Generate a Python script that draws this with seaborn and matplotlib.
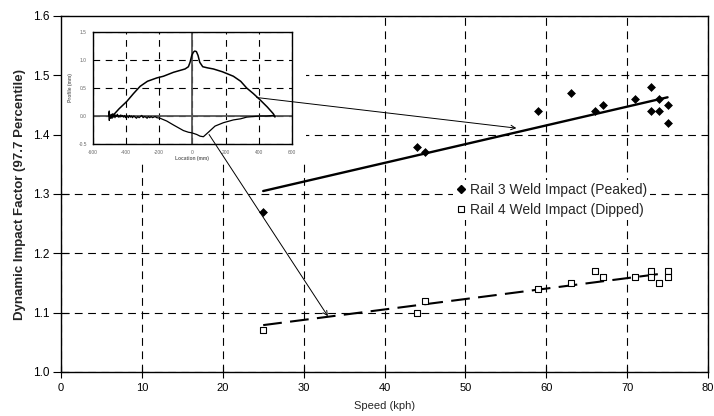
import numpy as np
import pandas as pd
import matplotlib
matplotlib.use("Agg")
import matplotlib.pyplot as plt
import seaborn as sns
from matplotlib.patches import Rectangle
from matplotlib.lines import Line2D

# ---- main chart data ----
speed_peaked = [25, 44, 45, 59, 63, 66, 67, 71, 73, 73, 74, 74, 75, 75]
dif_peaked = [1.27, 1.38, 1.37, 1.44, 1.47, 1.44, 1.45, 1.46, 1.48, 1.44, 1.46, 1.44, 1.45, 1.42]
speed_dipped = [25, 44, 45, 59, 63, 66, 67, 71, 73, 73, 74, 75, 75]
dif_dipped = [1.07, 1.10, 1.12, 1.14, 1.15, 1.17, 1.16, 1.16, 1.17, 1.16, 1.15, 1.17, 1.16]
trend_speed = [25, 75]
trend_peaked = [1.305, 1.463]
trend_dipped = [1.079, 1.167]
x_ticks = [0, 10, 20, 30, 40, 50, 60, 70, 80]
y_ticks = [1.0, 1.1, 1.2, 1.3, 1.4, 1.5, 1.6]
label_peaked = "Rail 3 Weld Impact (Peaked)"
label_dipped = "Rail 4 Weld Impact (Dipped)"

# ---- inset profile data ----
peak_loc = [-480, -440, -394, -354, -314, -270, -214, -174, -114, -44, -24, -14, -4, 6, 14, 24, 34, 44, 62, 90, 126, 180, 246, 290, 326, 366, 406, 450, 486, 496]
peak_prof = [0.00, 0.13, 0.26, 0.40, 0.53, 0.62, 0.68, 0.71, 0.78, 0.84, 0.88, 0.96, 1.08, 1.14, 1.16, 1.15, 1.08, 0.96, 0.88, 0.86, 0.84, 0.79, 0.71, 0.62, 0.50, 0.40, 0.29, 0.16, 0.04, -0.01]
dip_loc = [-500, -499.5, -499, -498.5, -497, -494, -490, -486, -482, -478, -474, -470, -465, -460, -455, -450, -445, -440, -435, -430, -425, -420,
           -414, -408, -402, -396, -390, -384, -378, -372, -366, -360, -352, -344, -336, -328, -320, -312, -304, -296, -288, -280,
           -272, -264, -256, -248, -240, -232, -224, -214, -194, -154, -114, -84, -54, -24, -4, 26, 46, 66, 96, 136, 186, 246, 290, 326, 366, 406, 446, 486, 496]
dip_prof = [0.00, 0.09, -0.08, 0.06, -0.04, 0.02, -0.04, 0.03, -0.04, 0.04, -0.02, 0.03, -0.03, 0.02, -0.01, 0.03, -0.02, 0.01, -0.02, 0.02, -0.01, 0.01,
            -0.02, 0.01, -0.03, 0.01, -0.01, -0.03, 0.01, -0.02, 0.00, -0.03, 0.00, -0.02, -0.04, -0.01, -0.03, -0.01, 0.01, -0.03, -0.01, -0.02,
            -0.04, -0.01, -0.03, -0.01, -0.03, -0.02, -0.01, -0.03, -0.04, -0.09, -0.16, -0.21, -0.26, -0.29, -0.30, -0.33, -0.36, -0.37, -0.29, -0.18, -0.12, -0.07, -0.05, -0.02, -0.01, 0.00, 0.00, 0.01, -0.02]
inset_xticks = [-600, -400, -200, 0, 200, 400, 600]
inset_yticks = [-0.5, 0.0, 0.5, 1.0, 1.5]

sns.set_theme(style="white")
plt.rcParams["font.family"] = ["Liberation Sans", "DejaVu Sans"]

W, H = 714, 416
fig = plt.figure(figsize=(W / 100, H / 100), dpi=100)
fig.patch.set_facecolor("white")

def fx(px):
    return px / W

def fy(py):
    return 1 - py / H

ax = fig.add_axes([fx(61), fy(372), fx(708) - fx(61), fy(16) - fy(372)])
ax.set_facecolor("white")

# scatter
dfp = pd.DataFrame({"speed": speed_peaked, "dif": dif_peaked})
dfd = pd.DataFrame({"speed": speed_dipped, "dif": dif_dipped})
sns.scatterplot(data=dfp, x="speed", y="dif", marker="D", s=16, color="black",
                edgecolor="black", linewidth=0.5, ax=ax, zorder=3)
sns.scatterplot(data=dfd, x="speed", y="dif", marker="s", s=18, facecolor="white",
                edgecolor="black", linewidth=0.8, ax=ax, zorder=3)

# trend lines
dft = pd.DataFrame({"speed": trend_speed, "peaked": trend_peaked, "dipped": trend_dipped})
sns.lineplot(data=dft, x="speed", y="peaked", color="black", lw=1.7, ax=ax, zorder=2.6)
sns.lineplot(data=dft, x="speed", y="dipped", color="black", lw=1.5, ax=ax, zorder=2.6,
             dashes=False, linestyle=(0, (9, 4)))

ax.set_xlim(0, 80)
ax.set_ylim(1.0, 1.6)
ax.set_xticks(x_ticks)
ax.set_yticks(y_ticks)
ax.set_yticklabels([f"{v:.1f}" for v in y_ticks])
ax.grid(True, color="black", lw=0.8, linestyle=(0, (7, 5)))
ax.set_axisbelow(True)
for s in ax.spines.values():
    s.set_color("black")
    s.set_linewidth(1.0)
ax.tick_params(axis="x", direction="inout", length=8, width=0.8, colors="black", labelsize=8, pad=4, bottom=True)
ax.tick_params(axis="y", direction="inout", length=11, width=0.8, colors="black", labelsize=8.5, pad=3, left=True)
ax.set_xlabel("Speed (kph)", fontsize=8, labelpad=6)
ax.set_ylabel("Dynamic Impact Factor (97.7 Percentile)", fontsize=9.5, fontweight="bold", labelpad=5)

# white box behind inset
ax.add_patch(Rectangle((0, 1.35), 30.3, 0.25, transform=ax.transData, facecolor="white",
                       edgecolor="none", zorder=1))

handles = [Line2D([], [], marker="D", color="black", ls="none", markersize=4),
           Line2D([], [], marker="s", markerfacecolor="white", markeredgecolor="black", ls="none", markersize=4.5, markeredgewidth=0.8)]
leg = ax.legend(handles, [label_peaked, label_dipped], loc="center left",
                bbox_to_anchor=((446 - 61) / 647, (372 - 200) / 356), frameon=True,
                facecolor="white", edgecolor="none", framealpha=1, fontsize=10,
                handlelength=0.8, handletextpad=0.25, labelspacing=0.42, borderpad=0.2)
leg.set_zorder(4)

# ---- inset ----
ins = fig.add_axes([fx(92.5), fy(144), fx(292.3) - fx(92.5), fy(32) - fy(144)])
ins.set_zorder(5)
ins.set_facecolor("white")
dfpk = pd.DataFrame({"loc": peak_loc, "prof": peak_prof})
dfdp = pd.DataFrame({"loc": dip_loc, "prof": dip_prof})
ins.axhline(0, color="#555555", lw=1.3, zorder=1)
ins.axvline(0, color="#555555", lw=1.3, zorder=1)
sns.lineplot(data=dfpk, x="loc", y="prof", color="black", lw=1.1, ax=ins, sort=False, zorder=3)
sns.lineplot(data=dfdp, x="loc", y="prof", color="black", lw=0.9, ax=ins, sort=False, zorder=3)
ins.set_xlim(-600, 600)
ins.set_ylim(-0.5, 1.5)
ins.set_xticks(inset_xticks)
ins.set_yticks(inset_yticks)
ins.set_xticklabels([str(v) for v in inset_xticks])
ins.set_yticklabels([f"{v:.1f}" for v in inset_yticks])
ins.grid(True, color="black", lw=0.8, linestyle=(0, (6, 5)))
ins.set_axisbelow(True)
for s in ins.spines.values():
    s.set_color("black")
    s.set_linewidth(1.0)
ins.tick_params(axis="both", length=0, labelsize=3.5, colors="#666666", pad=4)
ins.set_xlabel("Location (mm)", fontsize=3.5, fontweight="bold", color="#666666", labelpad=1)
ins.set_ylabel("Profile (mm)", fontsize=3.5, fontweight="bold", color="#666666", labelpad=4)

# arrows from inset to main chart
ins.annotate("", xy=(56.3, 1.411), xycoords=ax.transData, xytext=(386, 0.33), textcoords="data",
             arrowprops=dict(arrowstyle="->", color="black", lw=0.7, shrinkA=0, shrinkB=0, mutation_scale=8),
             annotation_clip=False)
ins.annotate("", xy=(33, 1.094), xycoords=ax.transData, xytext=(100, -0.33), textcoords="data",
             arrowprops=dict(arrowstyle="->", color="black", lw=0.7, shrinkA=0, shrinkB=0, mutation_scale=8),
             annotation_clip=False)

fig.savefig("out.png", dpi=100, facecolor="white")
